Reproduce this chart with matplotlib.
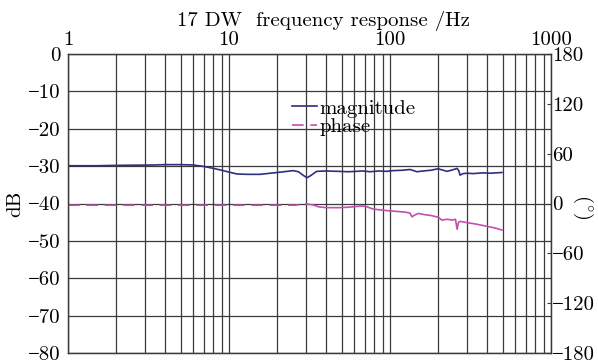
import matplotlib
matplotlib.use("Agg")
import matplotlib.pyplot as plt
from matplotlib.ticker import FixedLocator, FixedFormatter, NullFormatter

plt.rcParams["font.family"] = ["cmr10", "Liberation Serif", "DejaVu Serif"]
plt.rcParams["mathtext.fontset"] = "cm"
plt.rcParams["axes.unicode_minus"] = False

# Magnitude response (dB) of the 17 DW sensor
mag_freq = [1, 1.5, 2, 3.4, 4, 5, 6, 7, 8, 9, 10, 11.2, 13, 15.6, 18, 20, 23, 25,
            27, 29, 30.5, 32, 35, 40, 48, 55, 62, 68, 75, 85, 95, 105, 120, 133,
            140, 147, 160, 180, 199, 210, 226, 245, 261, 268, 272, 285, 301, 330,
            350, 380, 420, 496]
mag_db = [-29.9, -29.9, -29.8, -29.7, -29.6, -29.6, -29.7, -30.1, -30.6, -31.1,
          -31.6, -32.1, -32.2, -32.2, -31.9, -31.7, -31.4, -31.2, -31.5, -32.5,
          -33.1, -32.6, -31.4, -31.3, -31.4, -31.5, -31.4, -31.3, -31.5, -31.3,
          -31.4, -31.2, -31.1, -30.9, -31.2, -31.5, -31.3, -31.1, -30.7, -31.0,
          -31.4, -31.0, -30.6, -31.3, -32.4, -32.0, -31.9, -32.0, -31.9, -31.8,
          -31.9, -31.7]

# Phase response (degrees)
ph_freq = [1, 2, 4, 8, 12, 18, 26, 28, 30, 33, 36, 40, 48, 55, 62, 68, 72, 78,
           85, 95, 110, 125, 133, 137, 142, 150, 165, 180, 199, 210, 226, 245,
           255, 261, 266, 272, 300, 347, 400, 450, 496]
ph_deg = [-2.0, -2.0, -2.0, -2.0, -2.0, -2.0, -2.0, -1.0, -0.5, -1.5, -4.0, -5.0,
          -5.0, -4.5, -3.5, -3.0, -4.0, -6.5, -7.5, -8.5, -9.5, -10.5, -11.5,
          -16.0, -14.0, -12.0, -13.5, -14.5, -16.5, -20.0, -19.0, -20.0, -19.0,
          -31.0, -23.0, -21.5, -23.0, -25.0, -27.5, -29.5, -32.0]

db_ticks = [0, -10, -20, -30, -40, -50, -60, -70, -80]
deg_ticks = [180, 120, 60, 0, -60, -120, -180]
freq_ticks = [1, 10, 100, 1000]

mag_color = "#2e2f80"
ph_color = "#c250b0"
grid_color = "#3a3a3a"
FS = 15


def fmt(v):
    return str(v) if v >= 0 else "\u2212" + str(-v)


fig = plt.figure(figsize=(5.98, 3.63), dpi=100)
ax = fig.add_axes([68 / 598, 1 - 353 / 363, (551 - 68) / 598, (353 - 54) / 363])
ax2 = ax.twinx()

ax.set_xscale("log")
ax.set_xlim(1, 1000)
ax.set_ylim(-80, 0)
ax2.set_ylim(-180, 180)

# gridlines
ax.xaxis.set_major_locator(FixedLocator(freq_ticks))
ax.xaxis.set_minor_locator(FixedLocator(
    [m * 10 ** d for d in range(3) for m in range(2, 10)]))
ax.xaxis.set_minor_formatter(NullFormatter())
ax.xaxis.set_major_formatter(FixedFormatter([str(f) for f in freq_ticks]))
ax.grid(True, which="both", axis="x", color=grid_color, lw=0.9)
ax.yaxis.set_major_locator(FixedLocator(db_ticks))
ax.yaxis.set_major_formatter(FixedFormatter([fmt(v) for v in db_ticks]))
ax.grid(True, which="major", axis="y", color=grid_color, lw=0.9)

ax.xaxis.tick_top()
ax.xaxis.set_label_position("top")
ax.tick_params(axis="x", which="both", length=0, labelsize=FS, pad=3.5)
ax.tick_params(axis="y", length=0, labelsize=FS, pad=5)

ax2.yaxis.set_major_locator(FixedLocator(deg_ticks))
ax2.yaxis.set_major_formatter(FixedFormatter([fmt(v) for v in deg_ticks]))
ax2.tick_params(axis="y", direction="in", length=3, width=0.8,
                color=grid_color, labelsize=FS, pad=1)

for a in (ax, ax2):
    for s in a.spines.values():
        s.set_color(grid_color)
        s.set_linewidth(0.9)

ax.set_xlabel("17 DW  frequency response /Hz", fontsize=FS)
ax.xaxis.set_label_coords((323 - 68) / 483, 1 + (54 - 26) / 299)
ax.set_ylabel("dB", fontsize=FS, labelpad=3)
ax2.set_ylabel(r"$(^{\circ})$", fontsize=FS, rotation=-90, va="center")
ax2.yaxis.set_label_coords((583 - 68) / 483, 1 - (207 - 54) / 299)

# curves
ax.plot(mag_freq, mag_db, color=mag_color, lw=1.2, label="magnitude")
k = ph_freq.index(30)
ax2.plot(ph_freq[:k + 1], ph_deg[:k + 1], color=ph_color, lw=1.2,
         ls=(0, (7, 4)), label="phase")
ax2.plot(ph_freq[k:], ph_deg[k:], color=ph_color, lw=1.2)

h1, l1 = ax.get_legend_handles_labels()
h2, l2 = ax2.get_legend_handles_labels()
leg = ax2.legend(h1 + h2, l1 + l2, loc="upper left",
                 bbox_to_anchor=((292 - 68) / 483, 1 - (99 - 54) / 299),
                 frameon=False, fontsize=FS, handlelength=1.2,
                 handletextpad=0.1, labelspacing=0.0, borderpad=0,
                 borderaxespad=0)

fig.savefig("out.png", dpi=100)
